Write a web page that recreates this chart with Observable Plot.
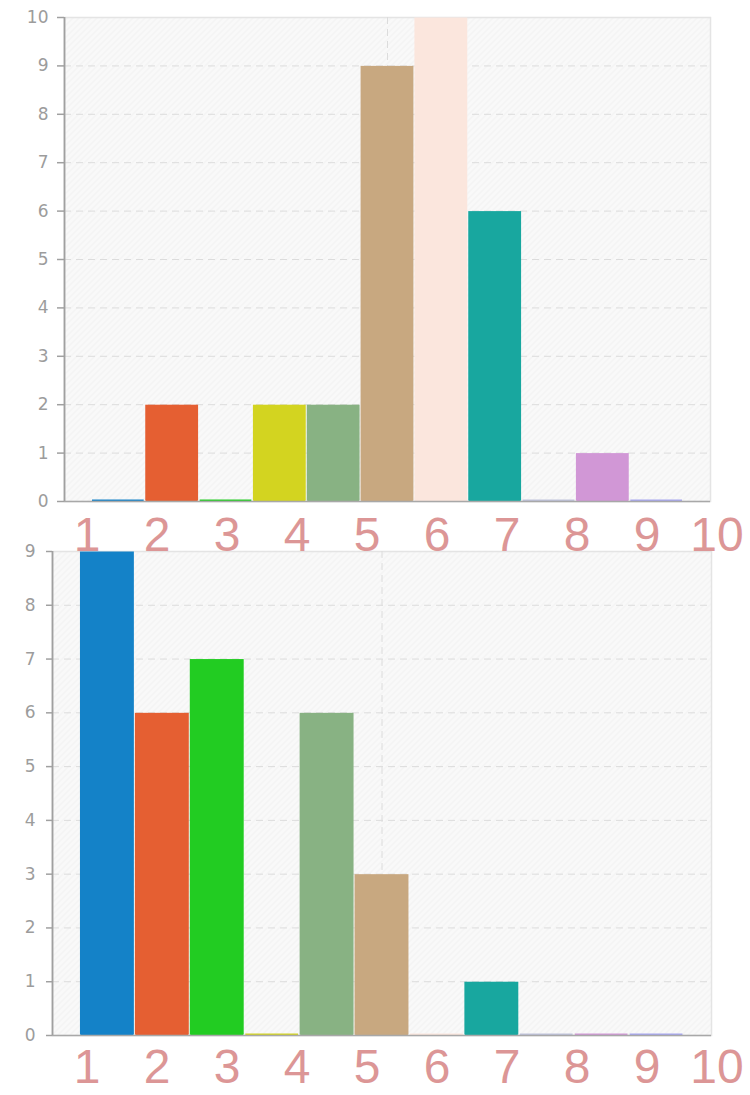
<!DOCTYPE html>
<html>
<head>
<meta charset="utf-8">
<script src="https://cdn.jsdelivr.net/npm/d3@7"></script>
<script src="https://cdn.jsdelivr.net/npm/@observablehq/plot@0.6"></script>
<style>
  body { margin: 0; background: #fff; }
  #wrap { position: relative; width: 750px; height: 1095px; overflow: hidden; }
  .chart { position: absolute; left: 0; }
  .labels { position: absolute; left: 52px; display: flex; font-family: "Liberation Sans", Arial, sans-serif;
            font-size: 48px; line-height: 40px; height: 40px; color: #dc9696; z-index: 2; }
  .labels span { display: block; width: 70px; text-align: center; }
</style>
</head>
<body>
<div id="wrap"></div>
<script>
// ---- data ----
const categories = ["1", "2", "3", "4", "5", "6", "7", "8", "9", "10", "11"];
const colors = ["#1482c8", "#e55f32", "#22cc22", "#d3d420", "#88b283", "#c8a880",
                "#fbe6dd", "#18a79f", "#bfc3dc", "#d197d6", "#a6a6f0"];
const topValues = [0, 2, 0, 2, 2, 9, 10, 6, 0, 1, 0];
const bottomValues = [9, 6, 7, 0, 6, 3, 0, 1, 0, 0, 0];
const tickLabels = ["1", "2", "3", "4", "5", "6", "7", "8", "9", "10"];

const wrap = document.getElementById("wrap");

function chart(values, o) {
  const data = categories.map((c, i) => ({c, i, v: values[i], color: colors[i]}));
  const n = categories.length;
  const p = Plot.plot({
    width: 750, height: o.height,
    marginTop: o.marginTop, marginBottom: o.marginBottom,
    marginLeft: o.marginLeft, marginRight: o.marginRight,
    style: {fontFamily: "DejaVu Sans, sans-serif", fontSize: "17px", background: "transparent"},
    x: {domain: [-0.5, n + 0.5], axis: null},
    y: {domain: [0, o.yMax], axis: null},
    marks: [
      Plot.frame({fill: `url(#${o.id})`, stroke: "#e4e4e4", strokeWidth: 1.5}),
      Plot.gridY(d3.range(1, o.yMax), {stroke: "#dcdcdc", strokeOpacity: 1, strokeDasharray: "7,5"}),
      Plot.ruleX([(n - 1) / 2 + 0.5], {stroke: "#dcdcdc", strokeDasharray: "7,5"}),
      Plot.rectY(data, {x1: "i", x2: d => d.i + 1, y: "v", fill: "color", inset: 0.5}),
      Plot.ruleY(data, {x1: d => d.i + 0.02, x2: d => d.i + 0.98, y: 0, dy: -1, stroke: "color", strokeWidth: 2.2}),
      Plot.ruleY([0], {stroke: "#a8a8a8", strokeWidth: 1.5}),
      Plot.ruleX([-0.5], {stroke: "#a0a0a0", strokeWidth: 1.8}),
      Plot.axisY({ticks: d3.range(0, o.yMax + 1), tickSize: o.tickSize, tickPadding: o.tickPadding,
                  label: null, stroke: "#a0a0a0", strokeWidth: 1.5, fill: "#9c9c9c", fontSize: 17,
                  tickFormat: d => String(d)})
    ]
  });
  d3.select(p).insert("defs", ":first-child").html(
    `<pattern id="${o.id}" width="6" height="6" patternUnits="userSpaceOnUse">` +
    `<rect width="6" height="6" fill="#f9f9f9"/>` +
    `<path d="M-1,1 l2,-2 M0,6 l6,-6 M5,7 l2,-2" stroke="#eeeeee" stroke-width="1"/></pattern>`);
  p.classList.add("chart");
  p.style.top = o.top + "px";
  wrap.appendChild(p);
}

function labelRow(top) {
  const div = document.createElement("div");
  div.className = "labels";
  div.style.top = top + "px";
  tickLabels.forEach(t => {
    const s = document.createElement("span");
    s.textContent = t;
    div.appendChild(s);
  });
  wrap.appendChild(div);
}

chart(topValues, {id: "hatchTop", top: 0, height: 520, marginTop: 17, marginBottom: 19,
                  marginLeft: 64, marginRight: 40, yMax: 10, tickSize: 7, tickPadding: 9});
chart(bottomValues, {id: "hatchBottom", top: 540, height: 505, marginTop: 11, marginBottom: 10,
                     marginLeft: 52, marginRight: 39, yMax: 9, tickSize: 6, tickPadding: 11});
labelRow(515);
labelRow(1047);
</script>
</body>
</html>
